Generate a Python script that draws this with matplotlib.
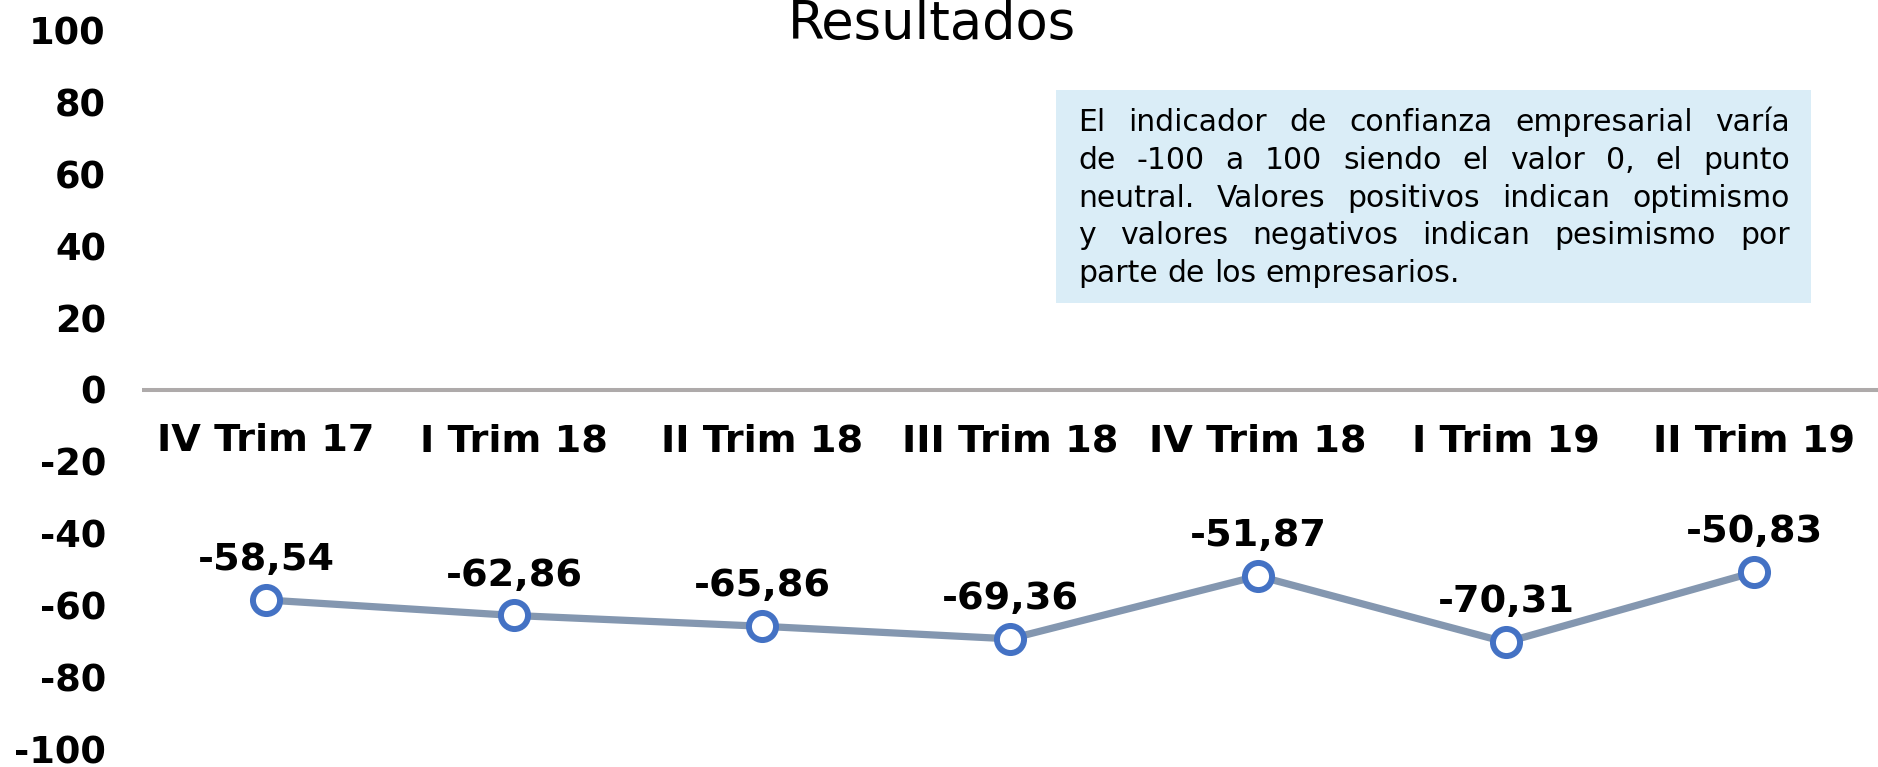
import matplotlib
matplotlib.use("Agg")
import matplotlib.pyplot as plt

# ----------------------------------------------------------------------
# datos
# ----------------------------------------------------------------------
trimestres = ["IV Trim 17", "I Trim 18", "II Trim 18", "III Trim 18",
              "IV Trim 18", "I Trim 19", "II Trim 19"]
indicador = [-58.54, -62.86, -65.86, -69.36, -51.87, -70.31, -50.83]
y_ticks = [100, 80, 60, 40, 20, 0, -20, -40, -60, -80, -100]

nota_lineas = [
    "El indicador de confianza empresarial varía",
    "de -100 a 100 siendo el valor 0, el punto",
    "neutral. Valores positivos indican optimismo",
    "y valores negativos indican pesimismo por",
    "parte de los empresarios.",
]

W, H, DPI = 1878, 767, 100
plt.rcParams["font.family"] = ["DejaVu Sans"]

fig = plt.figure(figsize=(W / DPI, H / DPI), dpi=DPI)
fig.patch.set_facecolor("white")


def fx(px):
    return px / W


def fy(py):
    return 1 - py / H


ax = fig.add_axes([fx(142), fy(749), fx(W) - fx(142), fy(30) - fy(749)])
ax.set_xlim(-0.5, len(trimestres) - 0.5)
ax.set_ylim(-100, 100)
for s in ax.spines.values():
    s.set_visible(False)
ax.set_facecolor("none")

ax.axhline(0, color="#AEAAAA", lw=2.9, zorder=1)

x = list(range(len(trimestres)))
ax.plot(x, indicador, color="#8497B0", lw=5.2, zorder=2,
        marker="o", ms=19.5, mfc="white", mec="#4472C4", mew=4.3)

for xi, v in zip(x, indicador):
    ax.annotate(f"{v:.2f}".replace(".", ","), (xi, v), xytext=(0, 21.5),
                textcoords="offset points", ha="center", va="baseline",
                fontsize=27.5, fontweight="bold", color="black")

for xi, lab in zip(x, trimestres):
    ax.annotate(lab, (xi, 0), xytext=(0, -44.6), textcoords="offset points",
                ha="center", va="baseline", fontsize=27.5, fontweight="bold")

ax.set_xticks([])
ax.set_yticks(y_ticks)
ax.set_yticklabels([str(t) for t in y_ticks], fontsize=26.5, fontweight="bold")
ax.tick_params(axis="y", length=0, pad=26)

fig.text(fx(932), fy(39), "Resultados", ha="center", va="baseline",
         fontsize=38, color="black")

# cuadro de nota con texto justificado
box_l, box_t, box_r, box_b = 1056, 90, 1811, 303
fig.patches.append(plt.Rectangle((fx(box_l), fy(box_b)), fx(box_r - box_l),
                                 fy(box_t) - fy(box_b), transform=fig.transFigure,
                                 facecolor="#DAEDF7", edgecolor="none", zorder=0))

txt_l, txt_r = 1078, 1790
base0, paso = 131, 37.8
fs_nota = 21.5
renderer = fig.canvas.get_renderer()


def ancho(s):
    t = fig.text(0, 0, s, fontsize=fs_nota)
    w = t.get_window_extent(renderer).width
    t.remove()
    return w


espacio = ancho("a a") - 2 * ancho("a")
for i, linea in enumerate(nota_lineas):
    yb = fy(base0 + i * paso)
    palabras = linea.split(" ")
    anchos = [ancho(p) for p in palabras]
    if i == len(nota_lineas) - 1:
        hueco = espacio
    else:
        hueco = (txt_r - txt_l - sum(anchos)) / (len(palabras) - 1)
    px = txt_l
    for p, w in zip(palabras, anchos):
        fig.text(fx(px), yb, p, fontsize=fs_nota, va="baseline", ha="left",
                 color="black")
        px += w + hueco

fig.savefig("out.png", dpi=DPI, facecolor="white")
